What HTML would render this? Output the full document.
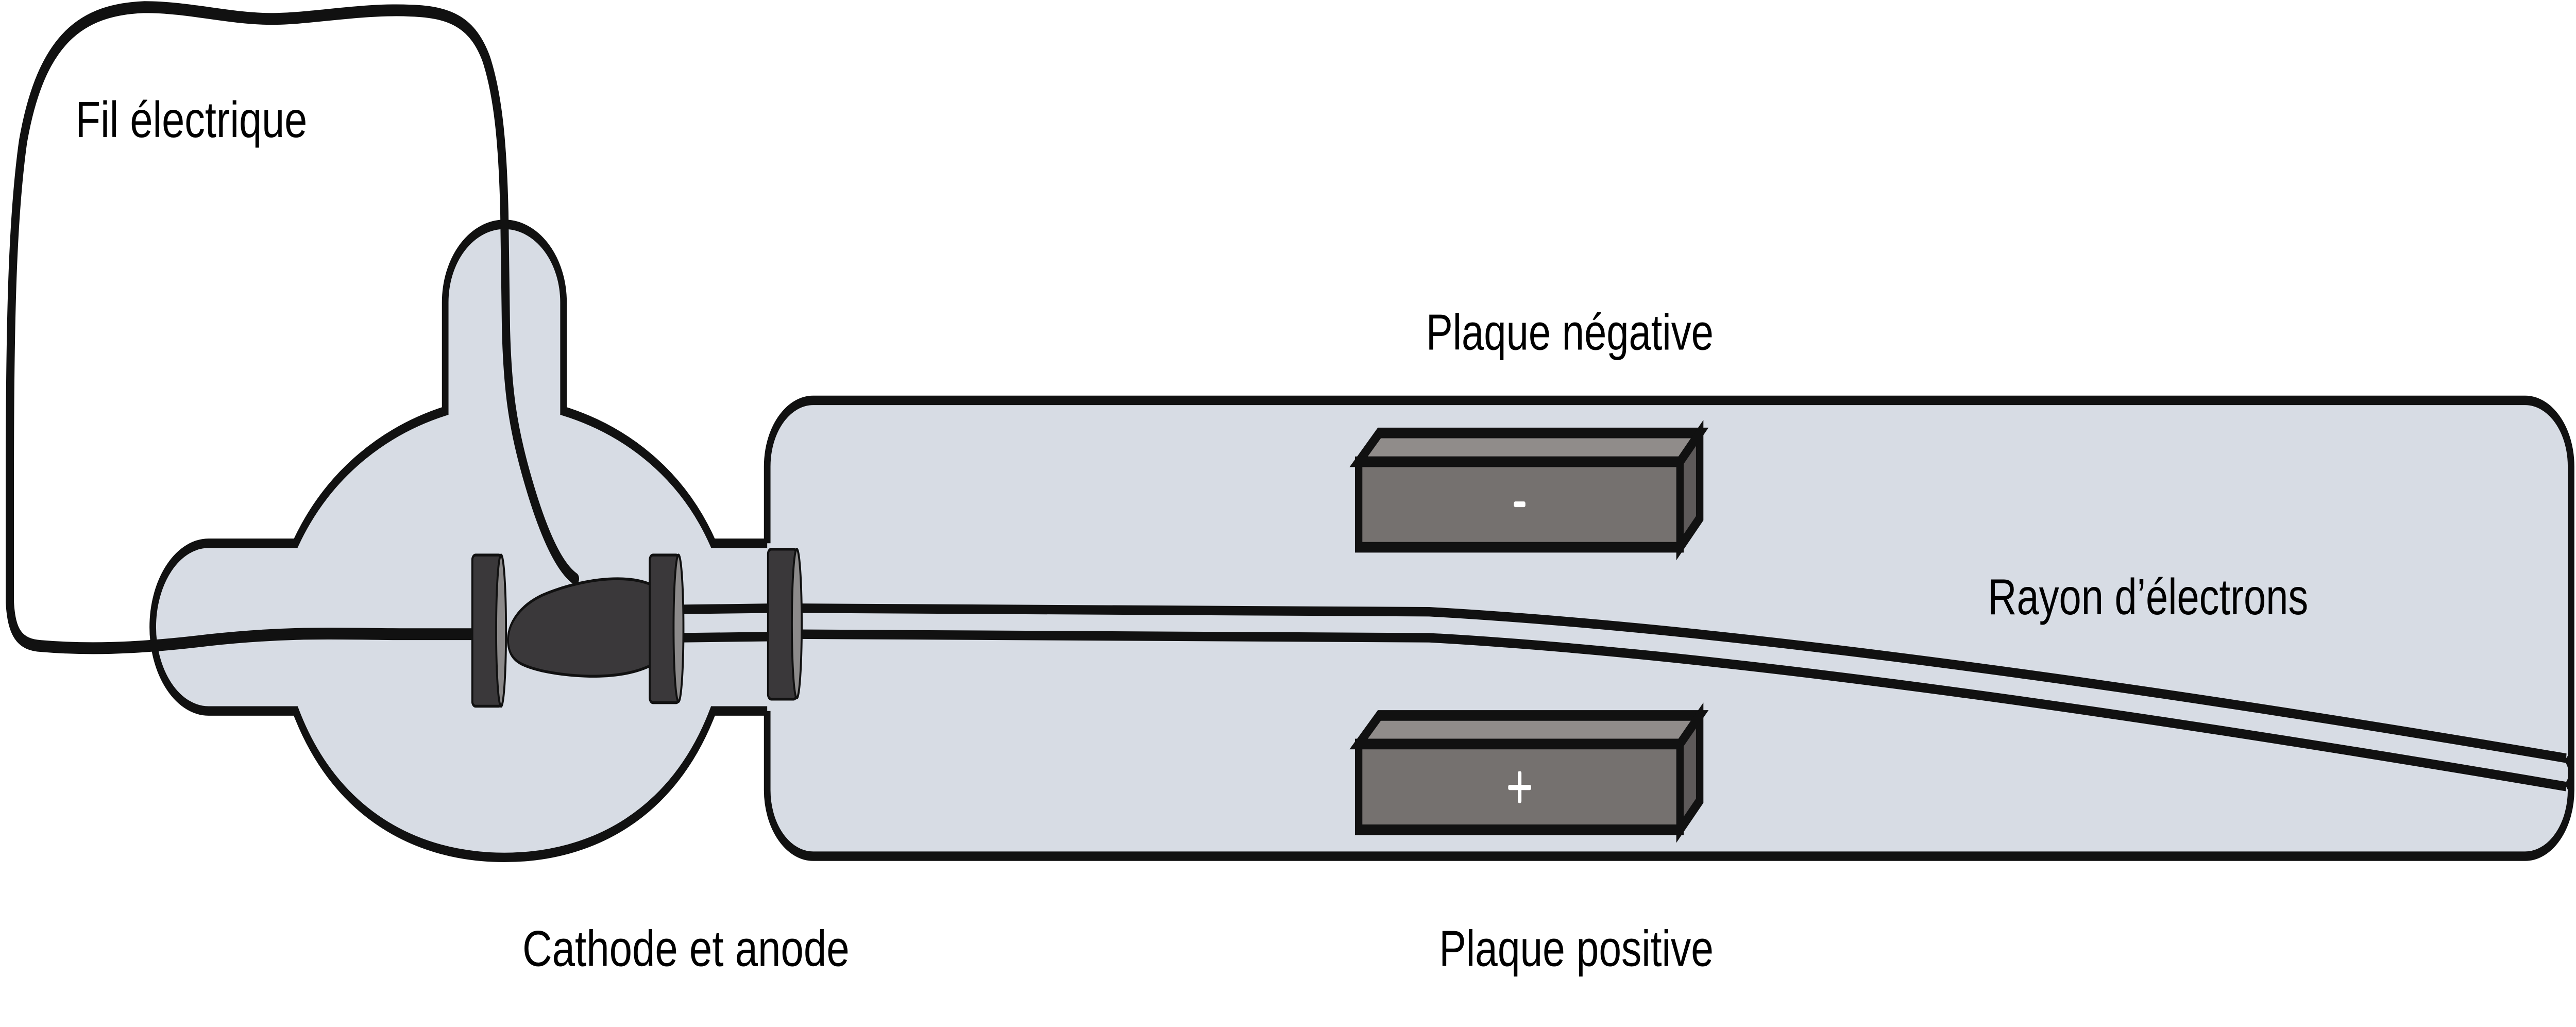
<!DOCTYPE html>
<html><head><meta charset="utf-8"><style>html,body{margin:0;padding:0;background:#fff;width:100vw;height:100vh;overflow:hidden}svg{display:block;width:100vw;height:100vh}</style></head>
<body>
<svg viewBox="0 0 1568 434.8" preserveAspectRatio="none" xmlns="http://www.w3.org/2000/svg">
<rect x="0" y="0" width="1568" height="434.8" fill="#fff"/>
<rect x="467" y="169.5" width="1098" height="193" rx="28" fill="#d7dce4" stroke="#111" stroke-width="4"/>
<path d="M271,174 L271,128 A36,33 0 0 1 343,128 L343,174 C380,182 415,200 434,230 L471,230 L471,301 L434,301 C410,345 360,363 307,363 C254,363 204,345 180,301 L127,301 A34,35.5 0 0 1 127,230 L180,230 C200,200 235,182 271,174 Z" fill="#d7dce4"/>
<path d="M467,301 L434,301 C410,345 360,363 307,363 C254,363 204,345 180,301 L127,301 A34,35.5 0 0 1 127,230 L180,230 C200,200 235,182 271,174 L271,128 A36,33 0 0 1 343,128 L343,174 C380,182 415,200 434,230 L467,230" fill="none" stroke="#111" stroke-width="4" stroke-linejoin="miter"/>
<path d="M350,245 C340,240 330,225 320,200 C312,180 309,165 308,140 L307,90 C306,60 303,40 296,25 C288,10 275,5 250,4.5 C220,3.5 190,8 165,8 C140,8 115,3 88,3 C50,4 25,16 14,60 C8,90 6,130 6,200 L6,255 C7,268 12,273 25,273.5 C50,275 80,275 127,271 C180,267 210,268.5 247,268.5 L292,268.5" fill="none" stroke="#111" stroke-width="5" stroke-linecap="round"/>
<path d="M414,258 L470,257.5 M414,270 L470,269.5" stroke="#111" stroke-width="4" fill="none"/>
<path d="M486,257.5 L870,259 C1050,266 1300,290 1562,321 M486,268.5 L870,270 C1050,277 1300,302 1562,333" stroke="#111" stroke-width="4" fill="none"/>
<path d="M1562,321 C1566,325 1566,330 1562,333" stroke="#111" stroke-width="3" fill="none"/>
<path d="M398,248 C380,242 350,246 330,252 C312,258 307,268 310,275 C312,280 318,282 330,284 C350,287 380,288 398,281 Z" fill="#3a383a" stroke="#111" stroke-width="1.2"/>
<g stroke="#111" stroke-width="1.2">
<rect x="287.5" y="235" width="18" height="64" rx="2" fill="#3a383a"/>
<ellipse cx="305" cy="267" rx="3" ry="32" fill="#8c8a8a"/>
<rect x="395.5" y="235" width="18" height="62.5" rx="2" fill="#3a383a"/>
<ellipse cx="413" cy="266" rx="3" ry="31" fill="#8c8a8a"/>
<rect x="467.5" y="232.5" width="17.5" height="63.5" rx="2" fill="#3a383a"/>
<ellipse cx="485" cy="264" rx="3" ry="31.5" fill="#8c8a8a"/>
</g>
<g stroke="#111" stroke-width="4.5" stroke-linejoin="miter">
<polygon points="827,195.5 839.6,183.3 1034.6,183.3 1022.6,195.5" fill="#908c8a"/>
<polygon points="1022.6,195.5 1034.6,183.3 1034.6,219.4 1022.6,231.7" fill="#5e5a5a"/>
<rect x="827" y="195.5" width="195.6" height="36.2" fill="#75716f"/>
<polygon points="827,315 839.6,302.9 1034.6,302.9 1022.6,315" fill="#908c8a"/>
<polygon points="1022.6,315 1034.6,302.9 1034.6,339 1022.6,351.3" fill="#5e5a5a"/>
<rect x="827" y="315" width="195.6" height="36.3" fill="#75716f"/>
</g>
<rect x="921.5" y="212.3" width="7" height="2.4" rx="0.8" fill="#fff"/>
<rect x="918" y="332.3" width="14" height="2.2" rx="0.8" fill="#fff"/>
<rect x="923.9" y="326.5" width="2.2" height="13.5" rx="0.8" fill="#fff"/>
<g font-family="'Liberation Sans', 'DejaVu Sans', sans-serif" font-size="21.5" fill="#000">
<text x="46" y="58" textLength="141" lengthAdjust="spacingAndGlyphs">Fil électrique</text>
<text x="868" y="148" textLength="175" lengthAdjust="spacingAndGlyphs">Plaque négative</text>
<text x="1210" y="260" textLength="195" lengthAdjust="spacingAndGlyphs">Rayon d’électrons</text>
<text x="318" y="409" textLength="199" lengthAdjust="spacingAndGlyphs">Cathode et anode</text>
<text x="876" y="409" textLength="167" lengthAdjust="spacingAndGlyphs">Plaque positive</text>
</g>
</svg>
</body></html>
